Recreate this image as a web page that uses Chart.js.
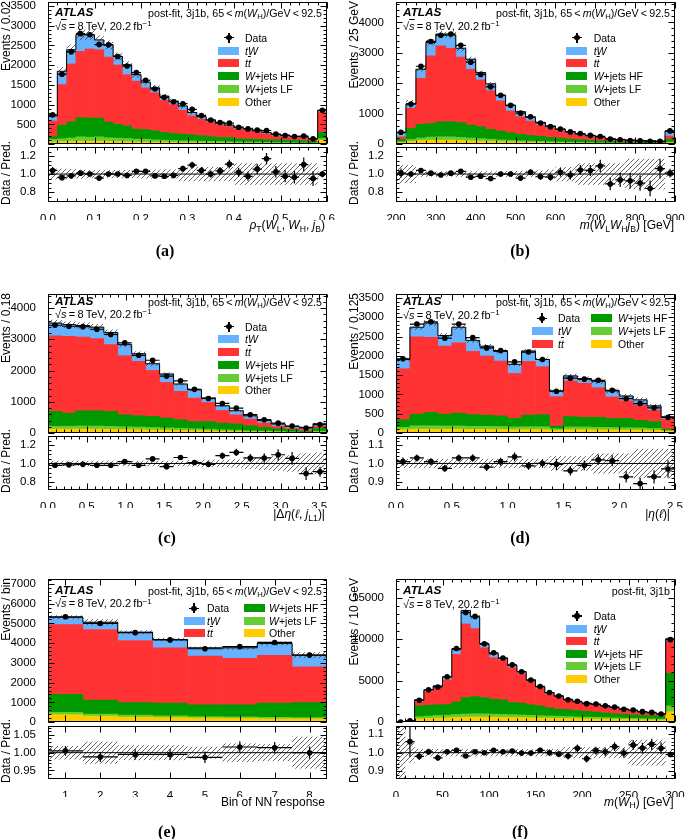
<!DOCTYPE html>
<html lang="en">
<head>
<meta charset="UTF-8">
<title>ATLAS post-fit distributions, 3j1b</title>
<script src="https://cdn.jsdelivr.net/npm/chart.js"></script>
<style>
  body { margin:0; background:#fff; width:685px; height:839px; overflow:hidden; position:relative;
         font-family:"Liberation Sans", Arial, Helvetica, sans-serif; color:#000; }
  canvas { position:absolute; }
  .t { position:absolute; white-space:nowrap; }
  sub, sup { font-size:72%; line-height:0; position:relative; vertical-align:baseline; }
  sub { bottom:-0.3em; }
  sup { top:-0.45em; }
  .ov { text-decoration:overline; }
  .box { position:absolute; width:21px; height:8px; }
  .mk { position:absolute; background:#000; }
</style>
</head>
<body>
<script>
// ---- (a) rho_T ----
const aOther = [60,65,70,75,75,75,70,65,60,55,50,48,45,42,40,38,35,33,30,28,26,25,24,22,20,18,17,16,14,100];
const aLF    = [60,70,85,110,100,110,90,85,80,70,75,60,55,50,45,45,40,35,35,30,30,28,25,22,20,20,18,16,14,40];
const aHF    = [70,343,405,485,485,475,400,350,320,255,245,227,195,178,165,152,135,122,105,107,84,77,76,71,70,62,57,53,42,155];
const aTT    = [397,1032,1470,1680,1750,1730,1645,1505,1300,1215,1055,965,812,730,605,478,420,370,317,280,238,222,170,145,100,85,76,65,40,502];
const aTW    = [126,335,360,420,360,250,310,215,250,165,145,125,108,90,110,87,65,50,43,35,42,43,40,35,40,40,32,35,30,58];
const aData  = [742,1771,2342,2798,2770,2521,2515,2220,1980,1813,1617,1397,1185,1074,1023,880,723,610,549,533,428,385,353,345,256,219,193,204,133,855];
const aRatio = [1.04,0.96,0.98,1.01,1.0,0.955,1.0,1.0,0.985,1.03,1.03,0.98,0.975,0.985,1.06,1.10,1.04,1.0,1.035,1.11,1.02,0.975,1.055,1.17,1.025,0.975,0.965,1.105,0.95,1.0];
const aErr   = [0.06,0.06,0.055,0.05,0.045,0.045,0.045,0.045,0.045,0.045,0.05,0.05,0.05,0.05,0.08,0.08,0.08,0.08,0.08,0.08,0.12,0.12,0.12,0.12,0.12,0.12,0.12,0.12,0.12,0.03];

// ---- (b) m(WL WH jB) ----
const bOther = [50,90,120,130,130,130,120,110,100,90,80,70,60,55,50,45,40,35,30,28,25,22,20,18,16,15,12,40];
const bLF    = [30,60,80,100,110,110,100,90,80,70,60,55,50,45,40,35,30,28,25,22,20,18,15,13,12,10,9,25];
const bHF    = [75,365,450,450,495,495,485,425,390,325,290,250,210,185,165,140,130,102,90,70,65,60,40,34,37,30,24,90];
const bTT    = [85,660,1515,2220,2495,2415,2155,1835,1540,1275,990,715,580,475,370,295,230,185,140,120,90,65,55,55,45,45,30,110];
const bTW    = [145,145,295,440,385,430,290,330,240,220,185,185,165,120,90,80,55,55,45,35,30,20,25,10,10,10,15,165];
const bData  = [389,1320,2558,3373,3579,3616,3245,2692,2291,1881,1605,1275,1017,898,694,574,495,401,345,286,251,165,145,120,108,92,95,434];
const bRatio = [1.01,1.0,1.04,1.01,0.99,1.01,1.03,0.965,0.975,0.95,1.0,1.0,0.955,1.02,0.97,0.965,1.02,0.99,1.045,1.04,1.09,0.89,0.935,0.925,0.9,0.84,1.06,1.01];
const bErr   = [0.1,0.1,0.03,0.03,0.03,0.03,0.03,0.03,0.03,0.03,0.03,0.035,0.035,0.035,0.04,0.05,0.08,0.08,0.12,0.12,0.12,0.12,0.12,0.17,0.17,0.17,0.17,0.03];

// ---- (c) |delta eta(l, jL1)| ----
const cOther = [130,130,130,125,120,115,110,100,95,85,80,70,60,50,40,35,28,20,12,30];
const cLF    = [90,90,100,100,95,90,85,80,75,70,60,55,50,45,35,30,25,18,10,30];
const cHF    = [475,420,485,490,480,380,360,355,310,270,230,245,210,195,160,120,87,72,33,100];
const cTT    = [2420,2455,2355,2305,2135,1890,1740,1470,1140,910,750,610,405,295,215,135,75,40,55,55];
const cTW    = [405,375,370,370,390,355,245,215,270,235,265,140,150,130,105,85,75,65,75,85];
const cData  = [3450,3418,3406,3322,3156,2887,2489,2331,1824,1672,1399,1109,949,801,588,429,318,227,165,273];
const cRatio = [0.98,0.985,0.99,0.98,0.98,1.02,0.98,1.05,0.965,1.065,1.01,0.99,1.085,1.12,1.06,1.06,1.095,1.055,0.89,0.91];
const cErr   = [0.03,0.03,0.03,0.03,0.03,0.03,0.03,0.03,0.03,0.03,0.035,0.04,0.04,0.045,0.06,0.07,0.08,0.09,0.11,0.12];

// ---- (d) |eta(l)| ----
const dOther = [90,100,100,100,100,95,95,95,90,90,90,70,90,90,85,85,80,80,70,45];
const dLF    = [60,90,90,85,85,80,80,75,70,75,75,45,70,70,65,60,60,55,50,30];
const dHF    = [195,300,345,305,330,305,290,275,220,300,315,65,270,250,260,235,240,195,180,28];
const dTT    = [1320,2000,1945,1760,1820,1635,1530,1420,1165,1390,1240,765,920,880,765,555,455,390,295,257];
const dTW    = [240,250,370,275,405,285,255,250,235,270,185,145,130,120,165,155,125,140,110,60];
const dData  = [1924,2822,2879,2457,2822,2472,2205,2136,1844,2097,1905,1085,1421,1396,1367,1106,890,765,654,407];
const dRatio = [1.01,1.03,1.01,0.973,1.03,1.03,0.98,1.01,1.036,0.987,1.0,0.995,0.96,0.99,1.02,1.015,0.927,0.89,0.927,0.97];
const dErr   = [0.025,0.025,0.025,0.025,0.025,0.025,0.025,0.025,0.025,0.025,0.025,0.04,0.04,0.04,0.055,0.055,0.055,0.08,0.08,0.08];

// ---- (e) NN response bins ----
const eOther = [380,300,260,230,200,190,170,160];
const eLF    = [120,110,100,90,80,80,70,70];
const eHF    = [910,700,630,640,595,605,720,760];
const eTT    = [3530,3580,3145,2805,2470,2350,2420,1815];
const eTW    = [370,370,420,420,420,540,600,590];
const eData  = [5337,4999,4532,4164,3716,3825,4036,3395];
const eRatio = [1.005,0.988,0.995,0.995,0.987,1.016,1.014,1.0];
const eErr   = [0.019,0.031,0.021,0.021,0.017,0.026,0.024,0.045];

// ---- (f) m(WH) ----
const fOther = [2,15,400,450,500,520,560,600,620,620,600,580,560,540,520,500,480,460,440,420,400,380,360,340,320,300,280,260,240,1250];
const fLF    = [2,10,250,280,300,320,350,380,380,380,360,350,340,320,300,280,260,250,230,210,200,190,180,170,160,150,140,130,120,700];
const fHF    = [3,20,1310,1310,1280,1280,1530,1980,2080,1960,1800,1750,1460,1420,1260,1180,980,850,830,770,700,630,560,490,470,450,400,370,340,3930];
const fTT    = [5,80,480,1640,2080,2960,5720,8880,8200,6000,5000,4760,4200,3560,2800,2080,1640,1400,1140,980,850,830,730,640,500,400,320,280,180,3880];
const fTW    = [3,25,240,200,200,360,600,1600,1400,480,480,240,280,240,200,200,200,200,110,70,150,120,120,110,110,100,90,80,80,280];
const fData  = [10,159,2626,3899,4238,5467,8874,13198,12743,9440,8347,7718,6902,6068,5070,4295,3560,3138,2701,2509,2224,2174,1960,1808,1557,1459,1261,1170,983,9940];
const fRatio = [null,1.06,0.98,1.005,0.972,1.005,1.013,0.982,1.005,1.0,1.013,1.005,1.009,0.998,0.998,1.013,1.0,0.993,0.982,1.024,0.967,1.011,1.005,1.033,0.998,1.042,1.025,1.045,1.024,0.99];
const fErr   = [1.0,0.055,0.02,0.02,0.02,0.02,0.02,0.02,0.02,0.02,0.02,0.02,0.02,0.02,0.02,0.02,0.02,0.02,0.03,0.03,0.03,0.03,0.03,0.03,0.03,0.07,0.07,0.07,0.07,0.015];

const COLORS = { other: '#ffcc00', lf: '#66cc33', hf: '#009900', tt: '#ff3333', tw: '#66b2ff' };
const FONT = '"Liberation Sans", Arial, Helvetica, sans-serif';
const LABELS = {
  data: 'Data',
  tw: '<i>tW</i>',
  tt: '<i>t</i><i class="ov">t</i>',
  hf: '<i>W</i>+jets HF',
  lf: '<i>W</i>+jets LF',
  other: 'Other'
};
const REGION = 'post-fit, 3j1b, 65\u2009&lt;\u2009<i>m</i>(<i>W</i><sub>H</sub>)/GeV\u2009&lt;\u200992.5';
const ONE_COL = ['data', 'tw', 'tt', 'hf', 'lf', 'other'];

const panels = [
  { L: 48, R: 327, T: 2, B: 145, RT: 147, RB: 202, xr: [0, 0.6], xStep: 0.1, xMinor: 0.02, xDec: 1,
    yMax: 3600, yStep: 500, yMinor: 100, rr: [0.69, 1.3], rStep: 0.2, rMinor: 0.05, rDec: 1,
    comp: [aOther, aLF, aHF, aTT, aTW], data: aData, ratio: aRatio, err: aErr,
    yTitle: 'Events / 0.02', region: REGION, atlasY: 10.7, sqrtY: 23.7,
    xTitle: '<i>ρ</i><sub>T</sub>(<i>W</i><sub>L</sub>, <i>W</i><sub>H</sub>, <i>j</i><sub>B</sub>)', xtR: 325, xtY: 225,
    letter: '(a)', lx: 165, ly: 250,
    leg: { y0: 35.7, dy: 12.8, cols: [{ bx: 170, mx: 181, tx: 197, items: ONE_COL }] } },
  { L: 396, R: 675, T: 2, B: 145, RT: 147, RB: 202, xr: [200, 900], xStep: 100, xMinor: 25, xDec: 0,
    yMax: 4670, yStep: 1000, yMinor: 200, rr: [0.69, 1.3], rStep: 0.2, rMinor: 0.05, rDec: 1,
    comp: [bOther, bLF, bHF, bTT, bTW], data: bData, ratio: bRatio, err: bErr,
    yTitle: 'Events / 25 GeV', region: REGION, atlasY: 10.7, sqrtY: 23.7,
    xTitle: '<i>m</i>(<i>W</i><sub>L</sub><i>W</i><sub>H</sub><i>j</i><sub>B</sub>) [GeV]', xtR: 674, xtY: 225,
    letter: '(b)', lx: 520, ly: 250,
    leg: { y0: 35.7, dy: 12.8, cols: [{ bx: 170, mx: 181, tx: 197.7, items: ONE_COL }] } },
  { L: 48, R: 327, T: 294, B: 434, RT: 436, RB: 490, xr: [0, 3.6], xStep: 0.5, xMinor: 0.1, xDec: 1,
    yMax: 4450, yStep: 1000, yMinor: 200, rr: [0.71, 1.3], rStep: 0.2, rMinor: 0.05, rDec: 1,
    comp: [cOther, cLF, cHF, cTT, cTW], data: cData, ratio: cRatio, err: cErr,
    yTitle: 'Events / 0.18', region: REGION, atlasY: 7.7, sqrtY: 20,
    xTitle: '|Δ<i>η</i>(<i>ℓ</i>, <i>j</i><sub>L1</sub>)|', xtR: 325, xtY: 514,
    letter: '(c)', lx: 167, ly: 537,
    leg: { y0: 32.7, dy: 12.7, cols: [{ bx: 170, mx: 181, tx: 197, items: ONE_COL }] } },
  { L: 396, R: 675, T: 294, B: 434, RT: 436, RB: 490, xr: [0, 2.5], xStep: 0.5, xMinor: 0.1, xDec: 1,
    yMax: 3600, yStep: 500, yMinor: 100, rr: [0.855, 1.15], rStep: 0.1, rMinor: 0.02, rDec: 1,
    comp: [dOther, dLF, dHF, dTT, dTW], data: dData, ratio: dRatio, err: dErr,
    yTitle: 'Events / 0.125', region: REGION, atlasY: 7.7, sqrtY: 21,
    xTitle: '|<i>η</i>(<i>ℓ</i>)|', xtR: 670, xtY: 514,
    letter: '(d)', lx: 520, ly: 537,
    leg: { y0: 24.3, dy: 12.7, cols: [{ bx: 136, mx: 146, tx: 162, items: ['data', 'tw', 'tt'] },
                                      { bx: 195, tx: 222, items: ['hf', 'lf', 'other'] }] } },
  { L: 48, R: 327, T: 579, B: 723, RT: 726, RB: 779, xr: [0.5, 8.5], xStep: 1, xMinor: 0, xDec: 0,
    yMax: 7250, yStep: 1000, yMinor: 200, rr: [0.926, 1.075], rStep: 0.05, rMinor: 0.01, rDec: 2,
    comp: [eOther, eLF, eHF, eTT, eTW], data: eData, ratio: eRatio, err: eErr,
    yTitle: 'Events / bin', region: REGION, atlasY: 11.7, sqrtY: 24.3,
    xTitle: 'Bin of NN response', xtR: 325, xtY: 801.7,
    letter: '(e)', lx: 167, ly: 831.7,
    leg: { y0: 29.3, dy: 12.5, cols: [{ bx: 136, mx: 146, tx: 159, items: ['data', 'tw', 'tt'] },
                                      { bx: 196, tx: 221, items: ['hf', 'lf', 'other'] }] } },
  { L: 396, R: 675, T: 579, B: 723, RT: 726, RB: 779, xr: [0, 300], xStep: 50, xMinor: 10, xDec: 0,
    yMax: 17250, yStep: 5000, yMinor: 1000, rr: [0.857, 1.145], rStep: 0.1, rMinor: 0.02, rDec: 1,
    comp: [fOther, fLF, fHF, fTT, fTW], data: fData, ratio: fRatio, err: fErr,
    yTitle: 'Events / 10 GeV', region: 'post-fit, 3j1b', atlasY: 11.7, sqrtY: 25,
    xTitle: '<i>m</i>(<i>W</i><sub>H</sub>) [GeV]', xtR: 673.7, xtY: 801.7,
    letter: '(f)', lx: 520, ly: 831.7,
    leg: { y0: 37, dy: 12.6, cols: [{ bx: 170, mx: 181, tx: 197.7, items: ONE_COL }] } }
];

const YW = 48, PT = 12, PR = 12, PB = 10, XH = 18;
const TICK_FONT = { family: FONT, size: 11.5 };

function range(min, max, step) {
  const out = [];
  const k0 = Math.ceil(min / step - 1e-6), k1 = Math.floor(max / step + 1e-6);
  for (let k = k0; k <= k1; k++) out.push(k * step);
  return out;
}

let hatch = null;
function hatchPattern(ctx) {
  if (hatch) return hatch;
  const c = document.createElement('canvas');
  c.width = 5; c.height = 5;
  const g = c.getContext('2d');
  g.strokeStyle = '#333';
  g.lineWidth = 0.75;
  g.beginPath();
  g.moveTo(0, 5); g.lineTo(5, 0);
  g.moveTo(-1, 1); g.lineTo(1, -1);
  g.moveTo(4, 6); g.lineTo(6, 4);
  g.stroke();
  hatch = ctx.createPattern(c, 'repeat');
  return hatch;
}

// frame with inward ticks on all four sides
function drawFrame(chart, xMaj, xMin, yMaj, yMin) {
  const { ctx, chartArea: a } = chart;
  const xs = chart.scales.x, ys = chart.scales.y;
  const l = Math.round(a.left) + 0.5, r = Math.round(a.right) - 0.5;
  const t = Math.round(a.top) + 0.5, b = Math.round(a.bottom) - 0.5;
  ctx.save();
  ctx.strokeStyle = '#000';
  ctx.lineWidth = 1;
  ctx.strokeRect(l, t, r - l, b - t);
  ctx.beginPath();
  [[xMaj, 6], [xMin, 3]].forEach(([st, len]) => {
    if (!st) return;
    range(xs.min, xs.max, st).forEach(v => {
      const px = Math.round(xs.getPixelForValue(v)) + 0.5;
      ctx.moveTo(px, b); ctx.lineTo(px, b - len);
      ctx.moveTo(px, t); ctx.lineTo(px, t + len);
    });
  });
  [[yMaj, 6], [yMin, 3]].forEach(([st, len]) => {
    if (!st) return;
    range(ys.min, ys.max, st).forEach(v => {
      const py = Math.round(ys.getPixelForValue(v)) + 0.5;
      ctx.moveTo(l, py); ctx.lineTo(l + len, py);
      ctx.moveTo(r, py); ctx.lineTo(r - len, py);
    });
  });
  ctx.stroke();
  ctx.restore();
}

// hatched uncertainty band around "centre" values
function drawBand(chart, p, centre) {
  const { ctx, chartArea: a } = chart;
  const xs = chart.scales.x, ys = chart.scales.y;
  const n = p.data.length, w = (p.xr[1] - p.xr[0]) / n;
  ctx.save();
  ctx.beginPath();
  ctx.rect(a.left, a.top, a.width, a.height);
  ctx.clip();
  ctx.fillStyle = hatchPattern(ctx);
  for (let i = 0; i < n; i++) {
    const c = centre[i], e = p.err[i];
    const x0 = xs.getPixelForValue(p.xr[0] + i * w), x1 = xs.getPixelForValue(p.xr[0] + (i + 1) * w);
    const y0 = ys.getPixelForValue(c * (1 - e)), y1 = ys.getPixelForValue(c * (1 + e));
    ctx.fillRect(x0, y1, x1 - x0, y0 - y1);
  }
  ctx.restore();
}

// data error bars: full bin width horizontally, statistical vertically
function drawErrors(chart, p, vals, errs) {
  const { ctx, chartArea: a } = chart;
  const xs = chart.scales.x, ys = chart.scales.y;
  const n = vals.length, w = (p.xr[1] - p.xr[0]) / n;
  ctx.save();
  ctx.beginPath();
  ctx.rect(a.left, a.top, a.width, a.height);
  ctx.clip();
  ctx.strokeStyle = '#000';
  ctx.lineWidth = 1.2;
  ctx.beginPath();
  vals.forEach((v, i) => {
    if (v === null) return;
    const x0 = xs.getPixelForValue(p.xr[0] + i * w), x1 = xs.getPixelForValue(p.xr[0] + (i + 1) * w);
    const xc = (x0 + x1) / 2, y = ys.getPixelForValue(v);
    ctx.moveTo(x0, y); ctx.lineTo(x1, y);
    ctx.moveTo(xc, ys.getPixelForValue(v - errs[i]));
    ctx.lineTo(xc, ys.getPixelForValue(v + errs[i]));
  });
  ctx.stroke();
  ctx.restore();
}

function newCanvas(left, top, w, h) {
  const cv = document.createElement('canvas');
  cv.width = w; cv.height = h;
  cv.style.left = left + 'px';
  cv.style.top = top + 'px';
  cv.style.width = w + 'px';
  cv.style.height = h + 'px';
  document.body.appendChild(cv);
  return cv;
}

// fixed tick values (Chart.js would otherwise re-space ticks when max/step is nearly whole)
function fixedTicks(min, max, step) {
  return s => { s.ticks = range(min, max, step).map(v => ({ value: v })); };
}

function yAxis(min, max, step, dec) {
  return {
    type: 'linear', min, max, grid: { display: false }, border: { display: false },
    ticks: { padding: 4, color: '#000', font: TICK_FONT,
             callback: v => dec ? v.toFixed(dec) : String(Math.round(v)) },
    afterBuildTicks: fixedTicks(min, max, step),
    afterFit: s => { s.width = YW; }
  };
}

function drawPanel(p) {
  const n = p.data.length, w = (p.xr[1] - p.xr[0]) / n;
  const centers = p.data.map((_, i) => p.xr[0] + (i + 0.5) * w);
  const total = p.data.map((_, i) => p.comp.reduce((s, arr) => s + arr[i], 0));
  const W = YW + (p.R - p.L) + PR;

  // outline of the total prediction (step line through the bin edges)
  const outline = [{ x: p.xr[0], y: 0 }];
  total.forEach((t, i) => outline.push({ x: p.xr[0] + i * w, y: t }));
  outline.push({ x: p.xr[1], y: total[n - 1] }, { x: p.xr[1], y: 0 });

  const keys = ['other', 'lf', 'hf', 'tt', 'tw'];
  const bars = p.comp.map((arr, k) => ({
    type: 'bar', stack: 'mc', data: arr.map((v, i) => ({ x: centers[i], y: v })),
    backgroundColor: COLORS[keys[k]], borderWidth: 0, barPercentage: 1, categoryPercentage: 1
  }));

  const mainCv = newCanvas(p.L - YW, p.T - PT, W, PT + (p.B - p.T) + PB);
  new Chart(mainCv, {
    type: 'bar',
    data: {
      datasets: [
        { type: 'scatter', stack: 'd', data: p.data.map((v, i) => ({ x: centers[i], y: v })),
          pointRadius: 2.8, pointBackgroundColor: '#000', pointBorderWidth: 0 },
        { type: 'line', stack: 'o', data: outline, stepped: true, borderColor: '#000', borderWidth: 1,
          pointRadius: 0, fill: false },
        ...bars
      ]
    },
    options: {
      responsive: false, animation: false, events: [],
      layout: { padding: { top: PT, right: PR, bottom: PB, left: 0 } },
      plugins: { legend: { display: false }, tooltip: { enabled: false } },
      scales: {
        x: { type: 'linear', min: p.xr[0], max: p.xr[1], stacked: true, display: false, offset: false },
        y: Object.assign(yAxis(0, p.yMax, p.yStep, 0), { stacked: true })
      }
    },
    plugins: [{
      id: 'mainDeco',
      afterDatasetDraw(chart, args) { if (args.index === 1) drawBand(chart, p, total); },
      beforeDatasetDraw(chart, args) {
        if (args.index === 0) drawErrors(chart, p, p.data, p.data.map(v => Math.sqrt(v)));
      },
      afterDraw(chart) { drawFrame(chart, p.xStep, p.xMinor, p.yStep, p.yMinor); }
    }]
  });

  const ratioCv = newCanvas(p.L - YW, p.RT - PT, W, PT + (p.RB - p.RT) + XH);
  new Chart(ratioCv, {
    type: 'scatter',
    data: {
      datasets: [
        { data: p.ratio.map((v, i) => ({ x: centers[i], y: v })),
          pointRadius: 2.8, pointBackgroundColor: '#000', pointBorderWidth: 0 },
        { type: 'line', data: [{ x: p.xr[0], y: 1 }, { x: p.xr[1], y: 1 }], borderColor: '#000',
          borderWidth: 1, pointRadius: 0, fill: false }
      ]
    },
    options: {
      responsive: false, animation: false, events: [],
      layout: { padding: { top: PT, right: PR, bottom: 0, left: 0 } },
      plugins: { legend: { display: false }, tooltip: { enabled: false } },
      scales: {
        x: { type: 'linear', min: p.xr[0], max: p.xr[1], grid: { display: false }, border: { display: false },
             ticks: { autoSkip: false, maxRotation: 0, padding: 2,
                      color: '#000', font: TICK_FONT, callback: v => v.toFixed(p.xDec) },
             afterBuildTicks: fixedTicks(p.xr[0], p.xr[1], p.xStep),
             afterFit: s => { s.height = XH; } },
        y: yAxis(p.rr[0], p.rr[1], p.rStep, p.rDec)
      }
    },
    plugins: [{
      id: 'ratioDeco',
      beforeDatasetsDraw(chart) { drawBand(chart, p, total.map(() => 1)); },
      beforeDatasetDraw(chart, args) {
        if (args.index === 0) {
          drawErrors(chart, p, p.ratio, p.data.map((v, i) => Math.sqrt(v) / total[i]));
        }
      },
      afterDraw(chart) { drawFrame(chart, p.xStep, p.xMinor, p.rStep, p.rMinor); }
    }]
  });
}

function addText(html, x, y, o = {}) {
  const size = o.size || 11.5, lh = Math.round(size * 1.3), W = 400;
  const d = document.createElement('div');
  d.className = 't';
  d.innerHTML = html;
  d.style.fontSize = size + 'px';
  d.style.lineHeight = lh + 'px';
  if (o.font) d.style.fontFamily = o.font;
  if (o.bold) d.style.fontWeight = 'bold';
  d.style.top = (y - lh / 2) + 'px';
  if (o.align === 'right') {
    d.style.left = (x - W) + 'px'; d.style.width = W + 'px'; d.style.textAlign = 'right';
  } else if (o.align === 'center') {
    d.style.left = (x - W / 2) + 'px'; d.style.width = W + 'px'; d.style.textAlign = 'center';
  } else {
    d.style.left = x + 'px';
  }
  document.body.appendChild(d);
}

// rotated text; anchor 'end' puts the end of the text at y, otherwise centred on y
function addVText(html, cx, y, anchor, size) {
  const lh = Math.round(size * 1.3), W = 200;
  const d = document.createElement('div');
  d.className = 't';
  d.innerHTML = html;
  d.style.fontSize = size + 'px';
  d.style.lineHeight = lh + 'px';
  d.style.width = W + 'px';
  d.style.textAlign = anchor === 'end' ? 'right' : 'center';
  d.style.left = (cx - lh / 2) + 'px';
  d.style.top = (anchor === 'end' ? y + W : y + W / 2) + 'px';
  d.style.transformOrigin = '0 0';
  d.style.transform = 'rotate(-90deg)';
  document.body.appendChild(d);
}

function addBlock(cls, x, y, w, h, bg) {
  const d = document.createElement('div');
  d.className = cls;
  Object.assign(d.style, { left: x + 'px', top: y + 'px', width: w + 'px', height: h + 'px' });
  if (bg) d.style.background = bg;
  if (cls === 'mk' && w === h && w > 3) d.style.borderRadius = '50%';
  document.body.appendChild(d);
}

function drawLegend(p) {
  const { y0, dy, cols } = p.leg;
  cols.forEach(col => {
    col.items.forEach((key, r) => {
      const y = p.T + y0 + r * dy;
      if (key === 'data') {
        const mx = p.L + col.mx;
        addBlock('mk', mx - 5, y - 0.6, 10, 1.2);
        addBlock('mk', mx - 0.6, y - 5, 1.2, 10);
        addBlock('mk', mx - 2.8, y - 2.8, 5.6, 5.6);
      } else {
        addBlock('box', p.L + col.bx, y - 4, 21, 8, COLORS[key]);
      }
      addText(LABELS[key], p.L + col.tx, y, { size: 10.5 });
    });
  });
}

panels.forEach(p => {
  drawPanel(p);
  addText('<b><i>ATLAS</i></b>', p.L + 7, p.T + p.atlasY, { size: 11.8 });
  addText('√<i class="ov">s</i>\u2009=\u20098\u2009TeV, 20.2\u2009fb<sup>−1</sup>', p.L + 7, p.T + p.sqrtY, { size: 11 });
  addText(p.region, p.R - 5, p.T + p.atlasY, { size: 10.7, align: 'right' });
  drawLegend(p);
  addVText(p.yTitle, p.L - 42, p.T - 1, 'end', 12);
  addVText('Data / Pred.', p.L - 42, (p.RT + p.RB) / 2 - 2, 'center', 12);
  addText(p.xTitle, p.xtR, p.xtY, { size: 12, align: 'right' });
  addText(p.letter, p.lx, p.ly, { size: 16, bold: true, align: 'center', font: '"Liberation Serif", "Times New Roman", serif' });
});
</script>
</body>
</html>
